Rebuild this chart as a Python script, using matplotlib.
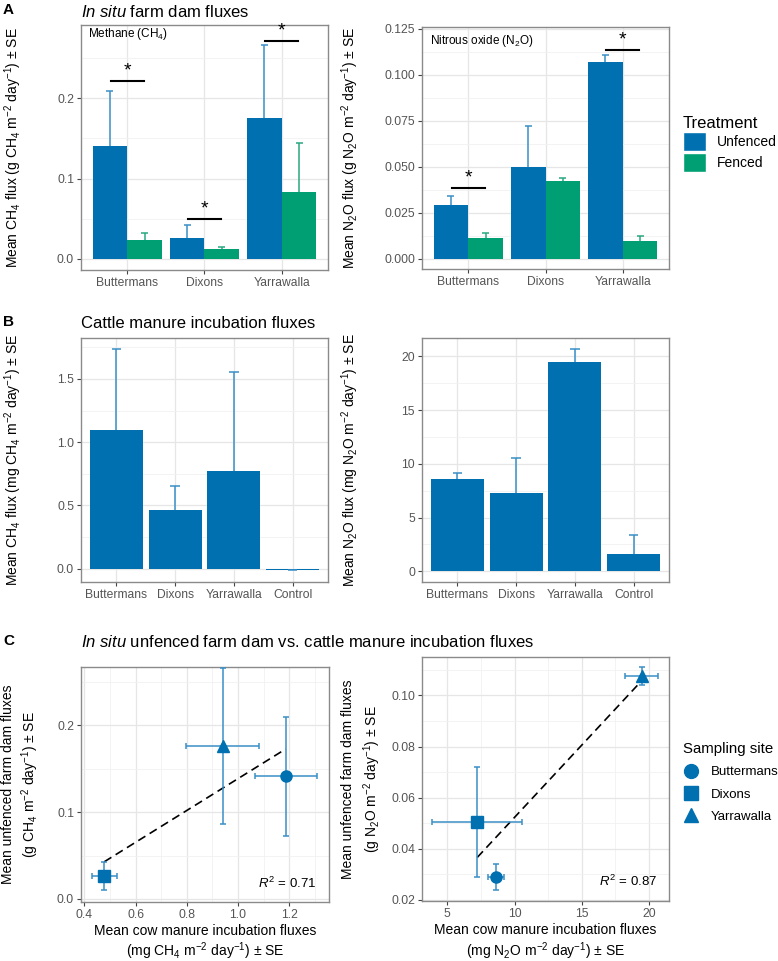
import numpy as np
import matplotlib
matplotlib.use("Agg")
import matplotlib.pyplot as plt
from matplotlib.patches import Patch
from matplotlib.lines import Line2D

plt.rcParams['font.family'] = ['Liberation Sans', 'DejaVu Sans']
plt.rcParams['mathtext.fontset'] = 'custom'
plt.rcParams['mathtext.rm'] = 'Liberation Sans'
plt.rcParams['mathtext.it'] = 'Liberation Sans:italic'
plt.rcParams['mathtext.bf'] = 'Liberation Sans:bold'

# ---- data ----
sites = ['Buttermans', 'Dixons', 'Yarrawalla']
sites_b = ['Buttermans', 'Dixons', 'Yarrawalla', 'Control']

# panel A: in situ farm dam fluxes (g m-2 day-1)
ch4_unfenced = [0.141, 0.026, 0.175]
ch4_unfenced_se = [0.068, 0.016, 0.091]
ch4_fenced = [0.023, 0.013, 0.083]
ch4_fenced_se = [0.009, 0.002, 0.061]
ch4_sig_y = [0.221, 0.050, 0.271]

n2o_unfenced = [0.029, 0.050, 0.107]
n2o_unfenced_se = [0.005, 0.022, 0.0035]
n2o_fenced = [0.0115, 0.042, 0.0095]
n2o_fenced_se = [0.0025, 0.002, 0.003]
n2o_sig_sites = [0, 2]
n2o_sig_y = [0.0383, 0.1133]

# panel B: cattle manure incubation fluxes (mg m-2 day-1)
manure_ch4 = [1.10, 0.461, 0.775, -0.008]
manure_ch4_se = [0.635, 0.195, 0.78, -0.006]
manure_n2o = [8.58, 7.25, 19.44, 1.62]
manure_n2o_se = [0.60, 3.32, 1.24, 1.80]

# panel C: unfenced dam vs manure
c_ch4_x = [1.186, 0.478, 0.94]
c_ch4_xerr = [0.121, 0.050, 0.142]
c_ch4_y = [0.141, 0.026, 0.176]
c_ch4_yerr = [0.068, 0.016, 0.090]
c_n2o_x = [8.60, 7.23, 19.45]
c_n2o_xerr = [0.60, 3.34, 1.25]
c_n2o_y = [0.029, 0.0503, 0.1074]
c_n2o_yerr = [0.005, 0.0215, 0.0035]
r2_ch4 = 0.71
r2_n2o = 0.87

blue = '#0070b0'
green = '#009e73'
blue_err = '#3a8fc8'
green_err = '#2aa880'
site_markers = ['o', 's', '^']

W, H = 778, 961
fig = plt.figure(figsize=(W / 100, H / 100), dpi=100)


def px_axes(x0, x1, y0, y1):
    return fig.add_axes([x0 / W, 1 - y1 / H, (x1 - x0) / W, (y1 - y0) / H])


def style(ax, xmajor, xminor, ymajor, yminor):
    ax.set_xticks(xmajor)
    ax.set_xticks(xminor, minor=True)
    ax.set_yticks(ymajor)
    ax.set_yticks(yminor, minor=True)
    ax.grid(True, which='major', color='#e6e6e6', lw=0.9)
    ax.grid(True, which='minor', color='#f1f1f1', lw=0.6)
    ax.set_axisbelow(True)
    for s in ax.spines.values():
        s.set_color('#8a8a8a')
        s.set_linewidth(1.0)
    ax.tick_params(which='major', length=3, width=0.8, color='#444444',
                   labelsize=8.7, labelcolor='#555555', pad=2)
    ax.tick_params(which='minor', length=0)


def ylab(ax, text, x):
    ax.set_ylabel(text, fontsize=10, va='center')
    ax.yaxis.set_label_coords(x, 0.5)


def upper_err(ax, x, y, se, color, half):
    # only the upper whisker, as in the original bar charts
    top = np.array(y) + np.array(se)
    ax.vlines(x, y, top, color=color, lw=1.1, zorder=3)
    ax.hlines(top, np.array(x) - half, np.array(x) + half, color=color, lw=1.1, zorder=3)


# ---- panel A left: methane ----
ax = px_axes(81, 328, 25, 270)
xs = np.arange(len(sites))
ax.bar(xs - 0.225, ch4_unfenced, 0.45, color=blue)
ax.bar(xs + 0.225, ch4_fenced, 0.45, color=green)
upper_err(ax, xs - 0.225, ch4_unfenced, ch4_unfenced_se, blue_err, 0.045)
upper_err(ax, xs + 0.225, ch4_fenced, ch4_fenced_se, green_err, 0.045)
for i, y in enumerate(ch4_sig_y):
    ax.plot([i - 0.21, i + 0.21], [y, y], color='black', lw=1.5)
    ax.text(i, y + 0.002, '*', ha='center', va='bottom', fontsize=14)
ax.set_xlim(-0.6, 2.6)
ax.set_ylim(-0.0137, 0.291)
style(ax, xs, [], [0, 0.1, 0.2], [0.05, 0.15, 0.25])
ax.set_xticklabels(sites)
ax.set_yticklabels(['0.0', '0.1', '0.2'])
ax.text(0.028, 0.995, 'Methane (CH$_4$)', transform=ax.transAxes, fontsize=8.5,
        ha='left', va='top')
ylab(ax, 'Mean CH$_4$ flux (g CH$_4$ m$^{-2}$ day$^{-1}$) ± SE', -0.275)

# ---- panel A right: nitrous oxide ----
ax = px_axes(422, 669, 27, 269)
ax.bar(xs - 0.225, n2o_unfenced, 0.45, color=blue)
ax.bar(xs + 0.225, n2o_fenced, 0.45, color=green)
upper_err(ax, xs - 0.225, n2o_unfenced, n2o_unfenced_se, blue_err, 0.045)
upper_err(ax, xs + 0.225, n2o_fenced, n2o_fenced_se, green_err, 0.045)
for i, y in zip(n2o_sig_sites, n2o_sig_y):
    ax.plot([i - 0.21, i + 0.21], [y, y], color='black', lw=1.5)
    ax.text(i, y + 0.0008, '*', ha='center', va='bottom', fontsize=14)
ax.set_xlim(-0.6, 2.6)
ax.set_ylim(-0.0056, 0.1259)
style(ax, xs, [], np.arange(0, 0.126, 0.025), np.arange(0.0125, 0.126, 0.025))
ax.set_xticklabels(sites)
ax.set_yticklabels(['0.000', '0.025', '0.050', '0.075', '0.100', '0.125'])
ax.text(0.032, 0.975, 'Nitrous oxide (N$_2$O)', transform=ax.transAxes, fontsize=8.5,
        ha='left', va='top')
ylab(ax, 'Mean N$_2$O flux (g N$_2$O m$^{-2}$ day$^{-1}$) ± SE', -0.29)

fig.legend(handles=[Patch(facecolor=blue, edgecolor='white', label='Unfenced'),
                    Patch(facecolor=green, edgecolor='white', label='Fenced')],
           title='Treatment', loc='upper left', bbox_to_anchor=(677 / W, 1 - 110 / H),
           frameon=False, fontsize=10, title_fontsize=12, handlelength=1.7,
           handleheight=1.75, labelspacing=0.1, handletextpad=0.8,
           alignment='left', borderaxespad=0)

# ---- panel B left: manure methane ----
xb = np.arange(len(sites_b))
ax = px_axes(81, 328, 338, 582)
ax.bar(xb, manure_ch4, 0.9, color=blue)
upper_err(ax, xb, manure_ch4, manure_ch4_se, blue_err, 0.08)
ax.set_xlim(-0.6, 3.6)
ax.set_ylim(-0.105, 1.824)
style(ax, xb, [], [0, 0.5, 1.0, 1.5], [0.25, 0.75, 1.25, 1.75])
ax.set_xticklabels(sites_b)
ax.set_yticklabels(['0.0', '0.5', '1.0', '1.5'])
ylab(ax, 'Mean CH$_4$ flux (mg CH$_4$ m$^{-2}$ day$^{-1}$) ± SE', -0.275)

# ---- panel B right: manure nitrous oxide ----
ax = px_axes(422, 669, 338, 582)
ax.bar(xb, manure_n2o, 0.9, color=blue)
upper_err(ax, xb, manure_n2o, manure_n2o_se, blue_err, 0.08)
ax.set_xlim(-0.6, 3.6)
ax.set_ylim(-1.0, 21.71)
style(ax, xb, [], [0, 5, 10, 15, 20], [2.5, 7.5, 12.5, 17.5])
ax.set_xticklabels(sites_b)
ax.set_yticklabels(['0', '5', '10', '15', '20'])
ylab(ax, 'Mean N$_2$O flux (mg N$_2$O m$^{-2}$ day$^{-1}$) ± SE', -0.29)


# ---- panel C ----
def scatter_panel(ax, x, xerr, y, yerr, r2):
    k, b = np.polyfit(x, y, 1)
    xl = np.array([min(x), max(x)])
    ax.plot(xl, k * xl + b, color='black', lw=1.2, ls=(0, (5, 3)), zorder=2)
    for i in range(len(x)):
        ax.errorbar(x[i], y[i], xerr=xerr[i], yerr=yerr[i], fmt='none',
                    ecolor=blue_err, elinewidth=1.1, capsize=2.5, capthick=1.1, zorder=3)
        ax.plot(x[i], y[i], marker=site_markers[i], color=blue, ms=8 if i < 2 else 9,
                ls='none', zorder=4)
    ax.text(0.95, 0.08, r'$\mathit{R}^2$ = %.2f' % r2, transform=ax.transAxes,
            ha='right', va='center', fontsize=9.5)


def two_line_labels(ax, xl1, xl2, xl2_y, yl1, yl2, y_x1, y_x2):
    ax.set_xlabel(xl1, fontsize=10, labelpad=2)
    ax.text(0.5, xl2_y, xl2, transform=ax.transAxes, fontsize=10,
            ha='center', va='center')
    ax.text(y_x1, 0.5, yl1, transform=ax.transAxes, fontsize=10, rotation=90,
            ha='center', va='center')
    ax.text(y_x2, 0.5, yl2, transform=ax.transAxes, fontsize=10, rotation=90,
            ha='center', va='center')


ax = px_axes(81, 329, 667, 902)
scatter_panel(ax, c_ch4_x, c_ch4_xerr, c_ch4_y, c_ch4_yerr, r2_ch4)
ax.set_xlim(0.387, 1.355)
ax.set_ylim(-0.0035, 0.267)
style(ax, [0.4, 0.6, 0.8, 1.0, 1.2], [0.5, 0.7, 0.9, 1.1, 1.3],
      [0, 0.1, 0.2], [0.05, 0.15, 0.25])
ax.set_xticklabels(['0.4', '0.6', '0.8', '1.0', '1.2'])
ax.set_yticklabels(['0.0', '0.1', '0.2'])
two_line_labels(ax, 'Mean cow manure incubation fluxes',
                '(mg CH$_4$ m$^{-2}$ day$^{-1}$) ± SE', -0.2085,
                'Mean unfenced farm dam fluxes',
                '(g CH$_4$ m$^{-2}$ day$^{-1}$) ± SE', -0.296, -0.204)

ax = px_axes(422, 669, 657, 901)
scatter_panel(ax, c_n2o_x, c_n2o_xerr, c_n2o_y, c_n2o_yerr, r2_n2o)
ax.set_xlim(3.12, 21.49)
ax.set_ylim(0.0196, 0.115)
style(ax, [5, 10, 15, 20], [7.5, 12.5, 17.5],
      [0.02, 0.04, 0.06, 0.08, 0.10], [0.03, 0.05, 0.07, 0.09, 0.11])
ax.set_xticklabels(['5', '10', '15', '20'])
ax.set_yticklabels(['0.02', '0.04', '0.06', '0.08', '0.10'])
two_line_labels(ax, 'Mean cow manure incubation fluxes',
                '(mg N$_2$O m$^{-2}$ day$^{-1}$) ± SE', -0.205,
                'Mean unfenced farm dam fluxes',
                '(g N$_2$O m$^{-2}$ day$^{-1}$) ± SE', -0.30, -0.202)

fig.legend(handles=[Line2D([], [], marker=m, color=blue, ls='none', ms=10, label=s)
                    for m, s in zip(site_markers, sites)],
           title='Sampling site', loc='upper left', bbox_to_anchor=(678 / W, 1 - 737 / H),
           frameon=False, fontsize=9.5, title_fontsize=10.8, handlelength=1.2,
           labelspacing=0.75, handletextpad=0.9, alignment='left', borderaxespad=0)

# ---- titles and panel letters ----
fig.text(3 / W, 1 - 10 / H, 'A', fontsize=11, fontweight='bold', va='center')
fig.text(3 / W, 1 - 322 / H, 'B', fontsize=11, fontweight='bold', va='center')
fig.text(3 / W, 1 - 641 / H, 'C', fontsize=11, fontweight='bold', va='center')
fig.text(81 / W, 1 - 12 / H, r'$\mathit{In\ situ}$ farm dam fluxes', fontsize=12, va='center')
fig.text(81 / W, 1 - 323 / H, 'Cattle manure incubation fluxes', fontsize=12, va='center')
fig.text(81 / W, 1 - 642 / H,
         r'$\mathit{In\ situ}$ unfenced farm dam vs. cattle manure incubation fluxes',
         fontsize=12, va='center')

fig.savefig('out.png', dpi=100)
